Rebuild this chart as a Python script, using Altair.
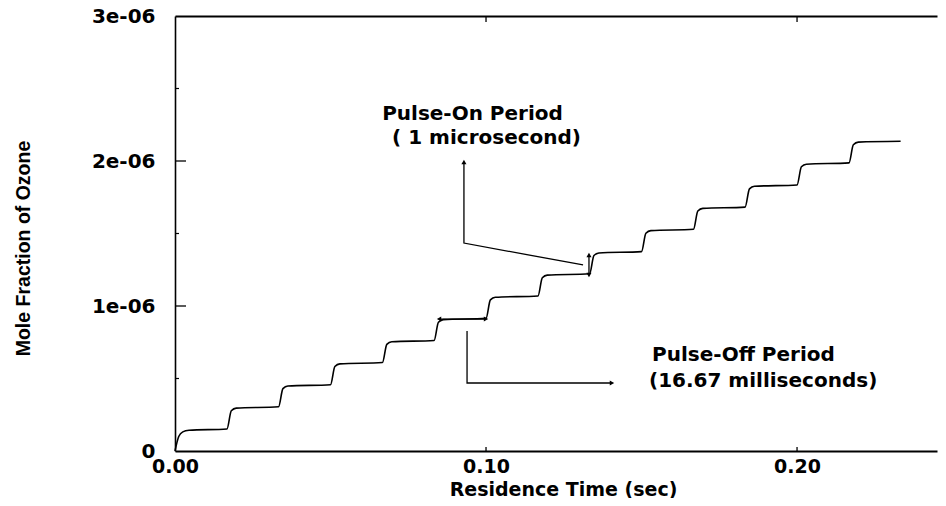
import altair as alt
import pandas as pd

# ---- data (time in s, ozone mole fraction in units of 1e-06)
curve_t = [0.0000, 0.0012, 0.0025, 0.0045, 0.0167,
           0.0181, 0.0197, 0.0333,
           0.0347, 0.0363, 0.0500,
           0.0514, 0.0530, 0.0667,
           0.0681, 0.0697, 0.0833,
           0.0847, 0.0863, 0.1000,
           0.1014, 0.1030, 0.1167,
           0.1181, 0.1197, 0.1333,
           0.1347, 0.1363, 0.1500,
           0.1514, 0.1530, 0.1667,
           0.1681, 0.1697, 0.1833,
           0.1847, 0.1863, 0.2000,
           0.2014, 0.2030, 0.2167,
           0.2181, 0.2197, 0.2333]
curve_v = [0.000, 0.100, 0.132, 0.143, 0.152,
           0.278, 0.296, 0.305,
           0.430, 0.448, 0.457,
           0.583, 0.601, 0.610,
           0.735, 0.753, 0.762,
           0.888, 0.906, 0.915,
           1.042, 1.060, 1.069,
           1.195, 1.213, 1.222,
           1.348, 1.366, 1.375,
           1.502, 1.520, 1.529,
           1.655, 1.673, 1.682,
           1.808, 1.826, 1.835,
           1.960, 1.978, 1.987,
           2.112, 2.130, 2.136]

# annotation leader lines
lead_id = ["on", "on", "on", "off", "off", "off", "on2", "on2", "off2", "off2"]
lead_t = [0.0929, 0.0929, 0.1312, 0.0939, 0.0939, 0.1405, 0.1331, 0.1331, 0.0849, 0.1000]
lead_v = [1.993, 1.434, 1.283, 0.828, 0.469, 0.469, 1.214, 1.352, 0.910, 0.910]

# arrow heads
head_t = [0.0929, 0.1405, 0.1331, 0.1331, 0.0849, 0.1000]
head_v = [1.993, 0.469, 1.352, 1.214, 0.910, 0.910]
head_shape = ["triangle-up", "triangle-right", "triangle-up", "triangle-down",
              "triangle-left", "triangle-right"]

# annotation texts
note_text = ["Pulse-On Period", "( 1 microsecond)", "Pulse-Off Period", "(16.67 milliseconds)"]
note_t = [0.0666, 0.0698, 0.1534, 0.1524]
note_v = [2.324, 2.159, 0.662, 0.483]

# axis ticks
x_ticks = [0.0, 0.1, 0.2]
y_ticks = [0, 1, 2, 3]
y_major_inner = [1, 2]
y_minor_inner = [0.5, 1.5, 2.5]
x_inner = [0.1, 0.2]

W, H = 762, 435
FONT = "DejaVu Sans"
NARROW = "Liberation Sans Narrow, Arial Narrow, Liberation Sans, Arial"

curve_df = pd.DataFrame({"i": range(len(curve_t)), "t": curve_t, "v": curve_v})
lead_df = pd.DataFrame({"id": lead_id, "i": range(len(lead_t)), "t": lead_t, "v": lead_v})
head_df = pd.DataFrame({"t": head_t, "v": head_v, "shape": head_shape})
note_df = pd.DataFrame({"t": note_t, "v": note_v, "text": note_text})

xs = alt.Scale(domain=[0, 0.245], nice=False, zero=False)
ys = alt.Scale(domain=[0, 3], nice=False, zero=False)

x_axis = alt.Axis(values=x_ticks, format=".2f", orient="bottom", ticks=False, tickSize=0,
                  labelPadding=6, labelFont=FONT, labelFontSize=19, labelFontWeight="bold",
                  labelColor="black", labelFlush=False, labelBound=False, grid=False,
                  domainColor="black", domainWidth=2,
                  title="Residence Time (sec)", titleFont=FONT, titleFontSize=19,
                  titleFontWeight="bold", titleColor="black", titleX=388, titleY=38,
                  titleAlign="center", titleBaseline="middle")
y_axis = alt.Axis(values=y_ticks, labelExpr="datum.value == 0 ? '0' : datum.value + 'e-06'",
                  ticks=False, tickSize=0, labelPadding=20, labelFont=FONT, labelFontSize=20,
                  labelFontWeight="bold", labelColor="black", labelFlush=False, labelBound=False,
                  grid=False, domainColor="black", domainWidth=1.6,
                  title="Mole Fraction of Ozone", titleFont=NARROW, titleFontSize=19.5,
                  titleFontWeight="bold", titleColor="black", titleAngle=270,
                  titleX=-152, titleY=232, titleAlign="center", titleBaseline="middle")

curve = alt.Chart(curve_df).mark_line(color="black", strokeWidth=1.6, interpolate="monotone").encode(
    x=alt.X("t:Q", scale=xs, axis=x_axis),
    y=alt.Y("v:Q", scale=ys, axis=y_axis),
    order="i:Q",
)

top_frame = alt.Chart(pd.DataFrame({"t": x_inner})).mark_rule(color="black", strokeWidth=1.3).encode(
    x=alt.X("t:Q", scale=xs, axis=alt.Axis(orient="top", labels=False, ticks=False, title=None,
                                           grid=False, domainColor="black", domainWidth=2)),
    y=alt.value(0), y2=alt.value(6),
)

bottom_ticks = alt.Chart(pd.DataFrame({"t": x_inner})).mark_rule(color="black", strokeWidth=1.3).encode(
    x=alt.X("t:Q", scale=xs, axis=None),
    y=alt.value(H), y2=alt.value(H - 4),
)

left_major = alt.Chart(pd.DataFrame({"v": y_major_inner})).mark_rule(color="black", strokeWidth=1.3).encode(
    y=alt.Y("v:Q", scale=ys, axis=None),
    x=alt.value(0), x2=alt.value(11),
)
left_minor = alt.Chart(pd.DataFrame({"v": y_minor_inner})).mark_rule(color="black", strokeWidth=1.2).encode(
    y=alt.Y("v:Q", scale=ys, axis=None),
    x=alt.value(0), x2=alt.value(4),
)

leads = alt.Chart(lead_df).mark_line(color="black", strokeWidth=1.3).encode(
    x=alt.X("t:Q", scale=xs, axis=None),
    y=alt.Y("v:Q", scale=ys, axis=None),
    detail="id:N",
    order="i:Q",
)

heads = alt.Chart(head_df).mark_point(filled=True, color="black", size=26, opacity=1).encode(
    x=alt.X("t:Q", scale=xs, axis=None),
    y=alt.Y("v:Q", scale=ys, axis=None),
    shape=alt.Shape("shape:N", scale=None, legend=None),
)

notes = alt.Chart(note_df).mark_text(align="left", baseline="middle", font=FONT, fontSize=20,
                                     fontWeight="bold", color="black").encode(
    x=alt.X("t:Q", scale=xs, axis=None),
    y=alt.Y("v:Q", scale=ys, axis=None),
    text="text:N",
)

chart = alt.layer(curve, top_frame, bottom_ticks, left_major, left_minor, leads, heads, notes).resolve_axis(
    x="independent", y="independent"
).properties(
    width=W, height=H,
    autosize=alt.AutoSizeParams(type="none"),
    padding={"left": 167, "top": 8, "right": 1, "bottom": 47},
    background="white",
).configure_view(stroke=None)

chart.save("out.html", embed_options={"renderer": "svg", "actions": False})
